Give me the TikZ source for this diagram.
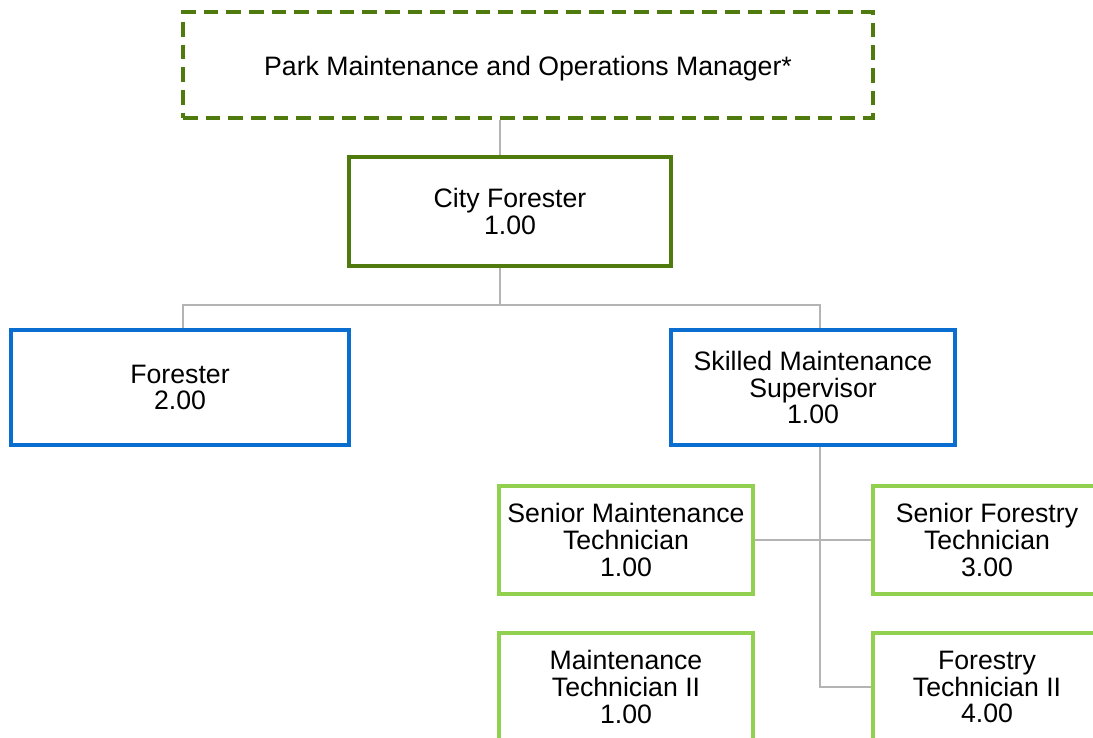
\documentclass[tikz,border=0pt]{standalone}
\usepackage{fontspec}
\setmainfont{Liberation Sans}
\usepackage{tikz}

\definecolor{darkgreen}{HTML}{4E7A0E}
\definecolor{midblue}{HTML}{0A6ED1}
\definecolor{lime}{HTML}{92D050}
\definecolor{linkgrey}{HTML}{B4B4B4}

\begin{document}
\begin{tikzpicture}[x=0.75pt, y=-0.75pt,
    post/.style={draw, line width=2.6pt, fill=white, align=center, inner sep=0pt,
      font=\fontsize{20}{20}\selectfont},
    head/.style={post, draw=darkgreen},
    lead/.style={post, draw=midblue},
    crew/.style={post, draw=lime, minimum height=81pt},
    link/.style={draw=linkgrey, line width=1.6pt}]
  \useasboundingbox (0,0) rectangle (1093,738);
  \clip (0,0) rectangle (1093,738);

  \coordinate (busA) at (500,305);
  \coordinate (busL) at (183,305);
  \coordinate (busR) at (820,305);

  % boxes
  \node[head, dashed, dash pattern=on 11pt off 6pt, minimum width=517.5pt, minimum height=79.5pt,
    text height=18.5pt, text depth=2pt]
    (mgr) at (528,65) {Park Maintenance and Operations Manager*};
  \node[head, minimum width=241.5pt, minimum height=81.75pt]
    (city) at (510,211.5) {City Forester\\1.00};

  \node[lead, minimum width=253.5pt, minimum height=86.25pt]
    (forester) at (180,387.5) {Forester\\2.00};
  \node[lead, minimum width=213pt, minimum height=86.25pt]
    (sms) at (813,387.5) {Skilled Maintenance\\Supervisor\\1.00};

  \node[crew, minimum width=190.5pt] (smt) at (626,540) {Senior Maintenance\\Technician\\1.00};
  \node[crew, minimum width=171pt] (sft) at (987,540) {Senior Forestry\\Technician\\3.00};
  \node[crew, minimum width=190.5pt] (mt2) at (626,687) {Maintenance\\Technician II\\1.00};
  \node[crew, minimum width=171pt] (ft2) at (987,687) {Forestry\\Technician II\\4.00};

  % connectors
  \draw[link] (mgr.south -| busA) -- (city.north -| busA);
  \draw[link] (city.south -| busA) -- (busA);
  \draw[link] (forester.north -| busL) -- (busL) -- (busR) -- (sms.north -| busR);
  \draw[link] (sms.south -| busR) -- (ft2.west -| busR) -- (ft2.west);
  \draw[link] (smt.east) -- (sft.west);
\end{tikzpicture}
\end{document}
